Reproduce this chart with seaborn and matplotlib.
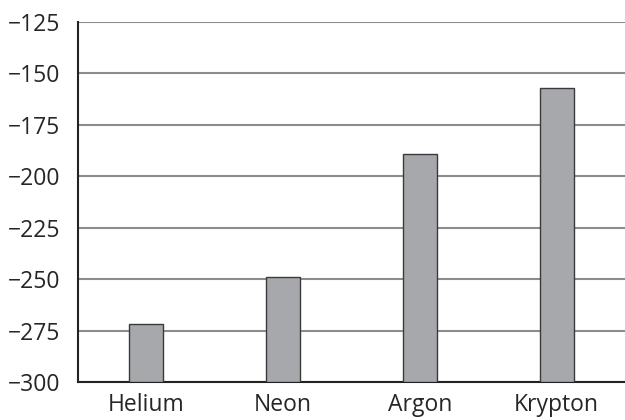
import numpy as np
import pandas as pd
import matplotlib
matplotlib.use("Agg")
import matplotlib.pyplot as plt
import seaborn as sns

# melting points of noble gases (deg C)
gases = ["Helium", "Neon", "Argon", "Krypton"]
melting = [-272, -249, -189, -157]
y_ticks = [-300, -275, -250, -225, -200, -175, -150, -125]
base = -300

df = pd.DataFrame({"gas": gases, "temp": melting})

sns.set_style("white")
plt.rcParams["font.family"] = ["Open Sans", "DejaVu Sans"]

fig = plt.figure(figsize=(6.25, 4.2), dpi=100)
ax = fig.add_axes([0.1248, 0.0905, 0.8752, 0.857])

sns.barplot(data=df, x="gas", y="temp", color="#a7a8ab", width=0.25,
            edgecolor="#3a3a3a", linewidth=1.0, saturation=1, ax=ax, zorder=3)

# bars start at the bottom of the axis rather than at zero
for p in ax.patches:
    h = p.get_height()
    p.set_y(base)
    p.set_height(h - base)

ax.set_ylim(base, -125)
ax.set_xlim(-0.5, len(gases) - 0.5)
ax.set_yticks(y_ticks)
ax.yaxis.grid(True, color="#8c8c8c", linewidth=1.5, zorder=0)
ax.set_axisbelow(True)

ax.set_xticks(range(len(gases)))
ax.set_xticklabels(gases)
ax.set_xticks(np.arange(-0.5, len(gases), 1.0), minor=True)
ax.tick_params(axis="x", which="major", length=0, pad=8, labelsize=16.5)
ax.tick_params(axis="x", which="minor", length=6, width=1.2, color="#222222", direction="out")
ax.tick_params(axis="y", length=7, width=1.2, color="#222222", direction="out", pad=6, labelsize=16.5)
ax.set_xlabel("")
ax.set_ylabel("")

for s in ["top", "right"]:
    ax.spines[s].set_visible(False)
for s in ["left", "bottom"]:
    ax.spines[s].set_color("#222222")
    ax.spines[s].set_linewidth(1.5)

fig.savefig("out.png", dpi=100)
plt.close(fig)
